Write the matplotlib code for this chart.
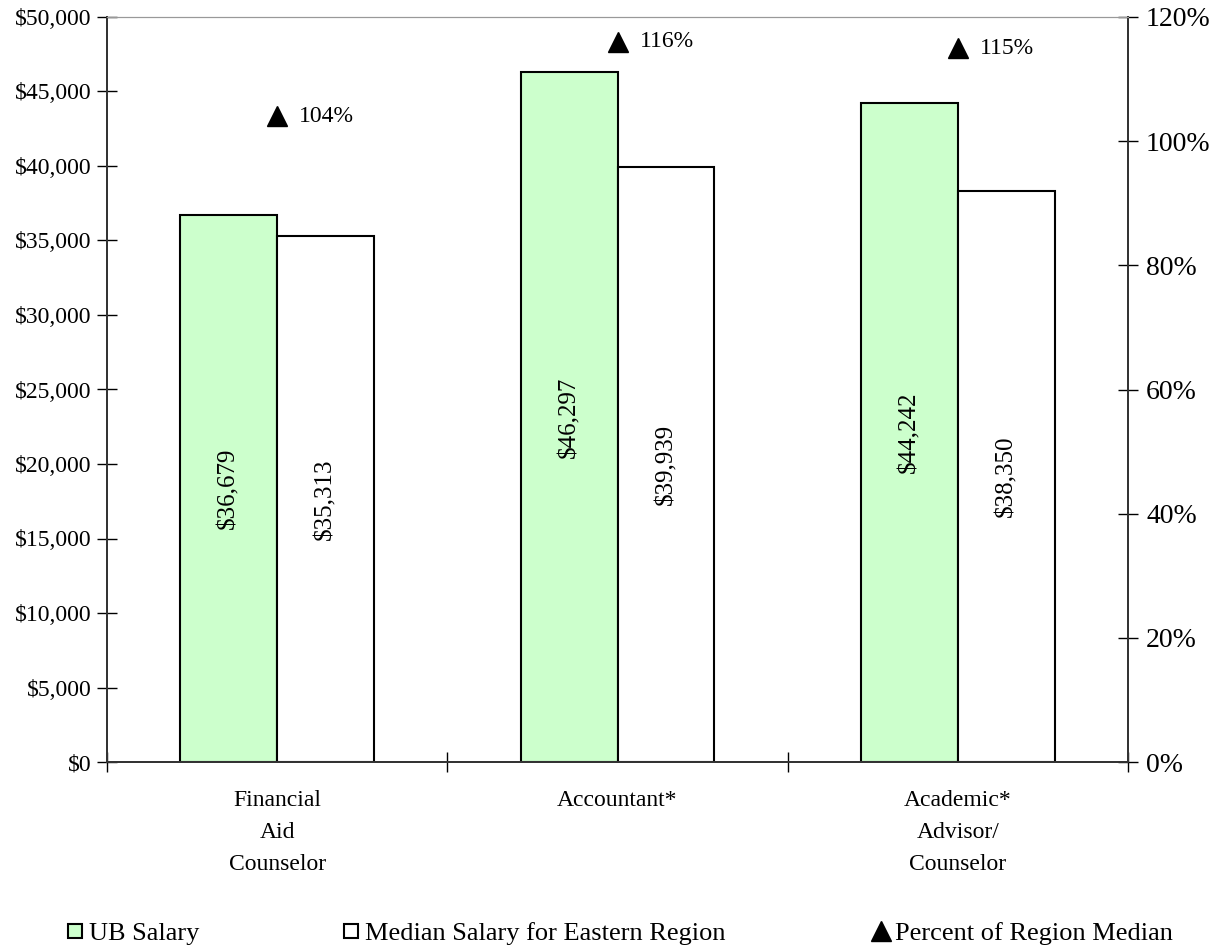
import matplotlib
matplotlib.use('Agg')
import matplotlib.pyplot as plt
from matplotlib.lines import Line2D
from matplotlib.ticker import FuncFormatter
import numpy as np

plt.rcParams['font.family'] = ['Liberation Serif', 'DejaVu Serif']

# data
categories = ["Financial\nAid\nCounselor", "Accountant*", "Academic*\nAdvisor/\nCounselor"]
ub_salary = [36679, 46297, 44242]
median_salary = [35313, 39939, 38350]
pct_of_median = [104, 116, 115]

GREEN = '#ccffcc'
FS = 17

fig = plt.figure(figsize=(12.28, 9.51), dpi=100)
ax = fig.add_axes([107 / 1228, 1 - 762 / 951, 1021 / 1228, 745 / 951])
ax2 = ax.twinx()

x = np.arange(len(categories))
w = 0.285

ax.bar(x - w / 2, ub_salary, w, color=GREEN, edgecolor='black', linewidth=1.5, zorder=2)
ax.bar(x + w / 2, median_salary, w, color='white', edgecolor='black', linewidth=1.5, zorder=2)

for xi, v in zip(x, ub_salary):
    ax.text(xi - w / 2, v / 2, f"${v:,}", rotation=90, ha='center', va='center', fontsize=18)
for xi, v in zip(x, median_salary):
    ax.text(xi + w / 2, v / 2, f"${v:,}", rotation=90, ha='center', va='center', fontsize=18)

ax2.plot(x, pct_of_median, linestyle='none', marker='^', markersize=15, color='black')
for xi, p in zip(x, pct_of_median):
    ax2.annotate(f"{p}%", (xi, p), xytext=(16, 0), textcoords='offset points',
                 ha='left', va='center', fontsize=FS)

ax.set_xlim(-0.5, 2.5)
ax.set_ylim(0, 50000)
ax.set_yticks(np.arange(0, 50001, 5000))
ax.yaxis.set_major_formatter(FuncFormatter(lambda v, _: f"${int(v):,}"))
ax2.set_ylim(0, 120)
ax2.set_yticks(np.arange(0, 121, 20))
ax2.yaxis.set_major_formatter(FuncFormatter(lambda v, _: f"{int(v)}%"))

# category ticks on the boundaries, labels centred under the groups
ax.set_xticks([-0.5, 0.5, 1.5, 2.5])
ax.set_xticklabels([])
ax.set_xticks(x, minor=True)
ax.set_xticklabels(categories, minor=True, fontsize=FS, linespacing=1.7)
ax.tick_params(axis='x', which='minor', length=0, pad=20)
ax.tick_params(axis='x', which='major', direction='inout', length=14, width=1)
ax.tick_params(axis='y', direction='inout', length=14, width=1, labelsize=FS, pad=4)
ax2.tick_params(axis='y', direction='inout', length=14, width=1, labelsize=20, pad=6)

for a in (ax, ax2):
    a.spines['top'].set_color('#999999')
    a.spines['left'].set_color('#333333')
    a.spines['right'].set_color('#333333')
    a.spines['bottom'].set_color('#333333')
    a.spines['left'].set_linewidth(1.3)
    a.spines['right'].set_linewidth(1.3)
    a.spines['bottom'].set_linewidth(1.3)

# legend items spread along the bottom
legend_items = [
    (Line2D([], [], linestyle='none', marker='s', markersize=10, markerfacecolor=GREEN,
            markeredgecolor='black', markeredgewidth=1.5), "UB Salary", 68),
    (Line2D([], [], linestyle='none', marker='s', markersize=10, markerfacecolor='white',
            markeredgecolor='black', markeredgewidth=1.5), "Median Salary for Eastern Region", 344),
    (Line2D([], [], linestyle='none', marker='^', markersize=14, color='black'),
     "Percent of Region Median", 874),
]
for h, lab, px in legend_items:
    fig.legend([h], [lab], loc='center left', bbox_to_anchor=(px / 1228, 1 - 933 / 951),
               frameon=False, fontsize=19, handlelength=0.55, handletextpad=0.25,
               borderpad=0, borderaxespad=0)

fig.savefig('out.png', dpi=100, facecolor='white')
